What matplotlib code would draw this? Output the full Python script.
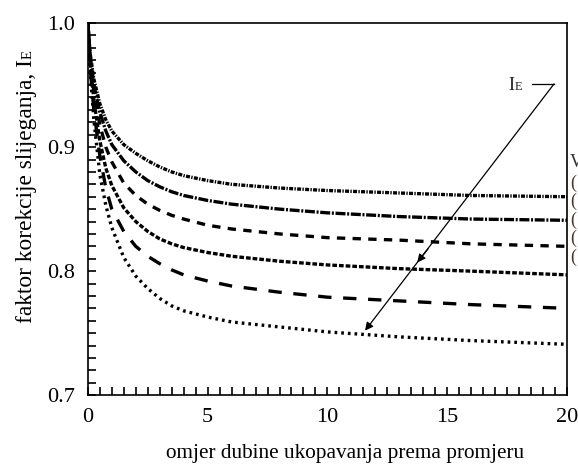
import matplotlib
matplotlib.use("Agg")
import matplotlib.pyplot as plt
from matplotlib.ticker import MultipleLocator, FormatStrFormatter

# depth ratio (x) and correction factor curves
x_ratio = [0, 0.1, 0.25, 0.5, 0.75, 1, 1.5, 2, 2.5, 3, 3.5, 4, 5, 6, 8, 10, 13, 16, 20]
ie_1 = [1.0, 0.975, 0.955, 0.935, 0.922, 0.913, 0.902, 0.895, 0.889, 0.884, 0.880, 0.877, 0.873, 0.870, 0.867, 0.865, 0.863, 0.861, 0.860]
ie_2 = [1.0, 0.972, 0.950, 0.928, 0.913, 0.902, 0.889, 0.880, 0.873, 0.868, 0.864, 0.861, 0.857, 0.854, 0.850, 0.847, 0.844, 0.842, 0.841]
ie_3 = [1.0, 0.970, 0.945, 0.918, 0.900, 0.888, 0.871, 0.861, 0.854, 0.849, 0.845, 0.842, 0.837, 0.834, 0.830, 0.827, 0.825, 0.822, 0.820]
ie_4 = [1.0, 0.967, 0.938, 0.905, 0.883, 0.869, 0.851, 0.840, 0.832, 0.826, 0.822, 0.819, 0.815, 0.812, 0.808, 0.805, 0.802, 0.800, 0.797]
ie_5 = [1.0, 0.963, 0.930, 0.893, 0.867, 0.850, 0.832, 0.820, 0.812, 0.806, 0.801, 0.797, 0.792, 0.788, 0.783, 0.779, 0.776, 0.773, 0.770]
ie_6 = [1.0, 0.960, 0.922, 0.878, 0.853, 0.835, 0.811, 0.796, 0.786, 0.778, 0.772, 0.768, 0.763, 0.759, 0.755, 0.751, 0.747, 0.744, 0.741]

curves = [ie_1, ie_2, ie_3, ie_4, ie_5, ie_6]
styles = [(0, (1.2, 0.4, 0.4, 0.4)),   # dense dash-dot
          (0, (3, 0.5, 0.6, 0.5)),     # dash-dot
          (0, (2.5, 2.2)),             # medium dash
          (0, (1.4, 0.6)),             # short dash
          (0, (4, 3.5)),               # long dash
          (0, (0.8, 1.2))]             # dotted

SERIF = "Liberation Serif"
W, H = 578, 471


def fx(px):
    return px / W


def fy(py):
    return 1 - py / H


fig = plt.figure(figsize=(5.78, 4.71), dpi=100)
ax = fig.add_axes([0.152, 0.161, 0.829, 0.790])

for vals, ls in zip(curves, styles):
    ax.plot(x_ratio, vals, color="black", lw=2.4, ls=ls,
            solid_capstyle="butt", dash_capstyle="butt")

ax.set_xlim(0, 20)
ax.set_ylim(0.7, 1.0)
ax.xaxis.set_major_locator(MultipleLocator(5))
ax.xaxis.set_minor_locator(MultipleLocator(0.5))
ax.yaxis.set_major_locator(MultipleLocator(0.1))
ax.yaxis.set_minor_locator(MultipleLocator(0.01))
ax.yaxis.set_major_formatter(FormatStrFormatter("%.1f"))
ax.tick_params(which="both", direction="in", length=6, width=1.2,
               top=False, right=False)
ax.tick_params(which="major", labelsize=16, pad=9)
for lab in ax.get_xticklabels() + ax.get_yticklabels():
    lab.set_fontfamily(SERIF)
for sp in ax.spines.values():
    sp.set_linewidth(1.2)

# axis titles placed by hand (small-caps E after the I)
fig.text(fx(345), fy(458), "omjer dubine ukopavanja prema promjeru",
         fontsize=15.3, family=SERIF, ha="center", va="baseline")
fig.text(fx(32), fy(59), "faktor korekcije slijeganja, I", fontsize=16.8,
         family=SERIF, rotation=90, rotation_mode="anchor",
         ha="right", va="baseline")
fig.text(fx(32), fy(59), "E", fontsize=10.5, family=SERIF, rotation=90,
         rotation_mode="anchor", ha="left", va="baseline")

# arrow showing direction of I_E
ax.annotate("", xy=(11.57, 0.752), xytext=(19.46, 0.951),
            arrowprops=dict(arrowstyle="-|>", color="black", lw=0.9,
                            mutation_scale=12, shrinkA=0, shrinkB=0))
ax.annotate("", xy=(13.75, 0.807), xytext=(14.2, 0.818),
            arrowprops=dict(arrowstyle="-|>", color="black", lw=0.9,
                            mutation_scale=12, shrinkA=0, shrinkB=0))
ax.plot([18.55, 19.46], [0.951, 0.951], color="black", lw=0.9)
fig.text(fx(508), fy(90), "I", fontsize=13, family=SERIF,
         ha="left", va="baseline", color="#222222")
fig.text(fx(515), fy(90), "E", fontsize=9, family=SERIF,
         ha="left", va="baseline", color="#222222")

# cut-off legend glyphs at the right edge
fig.text(fx(570), fy(163), "V", fontsize=13, family=SERIF,
         color="#333333", va="center", ha="left")
for yp in [183, 201, 220, 238, 257]:
    fig.text(fx(570), fy(yp), "(", fontsize=13, family=SERIF,
             color="#4a3a2a", va="center", ha="left")

fig.savefig("out.png", dpi=100)
